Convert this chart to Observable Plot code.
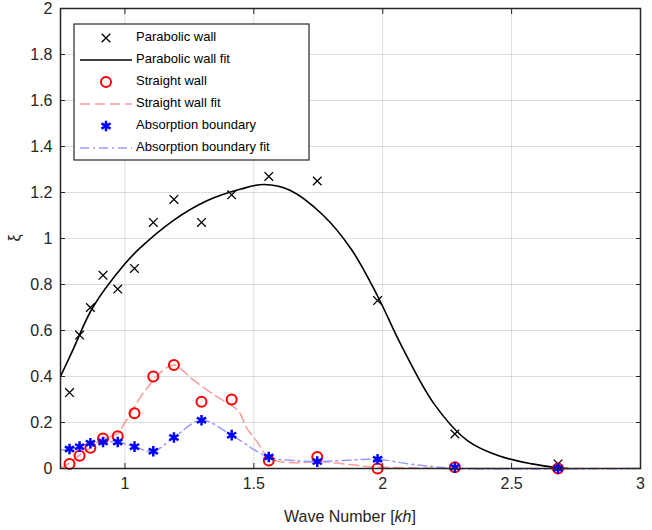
<!DOCTYPE html>
<html><head><meta charset="utf-8">
<script src="https://cdn.jsdelivr.net/npm/d3@7"></script>
<script src="https://cdn.jsdelivr.net/npm/@observablehq/plot@0.6"></script>
<style>body{margin:0;background:#fff}#chart{width:652px;height:530px}</style>
</head><body><div id="chart"></div>
<script>
// ---- data ----
const waveNumber = [0.785,0.824,0.866,0.915,0.972,1.037,1.11,1.19,1.297,1.414,1.558,1.746,1.98,2.28,2.68];
const parabolicY = [0.33,0.58,0.70,0.84,0.78,0.87,1.07,1.17,1.07,1.19,1.27,1.25,0.73,0.15,0.02];
const straightY  = [0.02,0.055,0.09,0.13,0.14,0.24,0.40,0.45,0.29,0.30,0.035,0.05,0.0,0.005,0.0];
const absorbY    = [0.085,0.095,0.11,0.115,0.115,0.095,0.075,0.135,0.21,0.145,0.05,0.03,0.04,0.005,0.0];

const parabolicFitX = [0.75,0.80,0.875,1.0,1.06,1.19,1.32,1.45,1.54,1.64,1.77,1.88,1.98,2.07,2.2,2.33,2.45,2.58,2.68,2.72];
const parabolicFitY = [0.40,0.52,0.70,0.89,0.96,1.08,1.165,1.215,1.235,1.21,1.10,0.95,0.75,0.54,0.28,0.12,0.055,0.02,0.003,0.0];

const straightFitX = [0.75,0.78,0.82,0.866,0.913,0.97,1.0,1.06,1.1,1.14,1.19,1.22,1.26,1.32,1.36,1.44,1.47,1.51,1.56,1.65,1.75,1.85,1.95,2.1,2.3,3.0];
const straightFitY = [0.0,0.02,0.055,0.09,0.13,0.15,0.2,0.31,0.37,0.42,0.45,0.43,0.39,0.34,0.31,0.25,0.18,0.12,0.045,0.025,0.03,0.02,0.008,0.003,0.0,0.0];

const absorbFitX = [0.75,0.785,0.824,0.866,0.917,0.975,1.037,1.11,1.19,1.297,1.413,1.556,1.65,1.746,1.85,1.98,2.1,2.2,2.28,3.0];
const absorbFitY = [0.08,0.085,0.095,0.11,0.115,0.115,0.095,0.075,0.135,0.21,0.145,0.05,0.035,0.03,0.035,0.04,0.02,0.008,0.0,0.0];

const xTicks = [1,1.5,2,2.5,3];
const xTickLabels = ["1","1.5","2","2.5","3"];
const yTicks = [0,0.2,0.4,0.6,0.8,1,1.2,1.4,1.6,1.8,2];
const yTickLabels = ["0","0.2","0.4","0.6","0.8","1","1.2","1.4","1.6","1.8","2"];

const legendLabels = ["Parabolic wall","Parabolic wall fit","Straight wall","Straight wall fit","Absorption boundary","Absorption boundary fit"];

// ---- tables ----
const zip = (xs, ys) => xs.map((x, i) => ({x, y: ys[i]}));
const parabolic = zip(waveNumber, parabolicY);
const straight = zip(waveNumber, straightY);
const absorb = zip(waveNumber, absorbY);
const parabolicFit = zip(parabolicFitX, parabolicFitY);
const straightFit = zip(straightFitX, straightFitY);
const absorbFit = zip(absorbFitX, absorbFitY);

const C = {
  black: "#000000", red: "#ff0000", pink: "#ff9a9a", blue: "#0000ff", lblue: "#9a9aff", axis: "#262626"
};
const dashStraight = "10,5";
const dashAbsorb = "9,4,2,4";

const plot = Plot.plot({
  width: 652, height: 530,
  marginLeft: 60, marginRight: 12, marginTop: 8, marginBottom: 62,
  style: {fontFamily: "'Liberation Sans', Arial, sans-serif", fontSize: "16px", color: C.axis, background: "#fff"},
  x: {domain: [0.75, 3]},
  y: {domain: [0, 2]},
  marks: [
    Plot.gridX(xTicks, {stroke: "#000", strokeOpacity: 0.13, strokeWidth: 1}),
    Plot.gridY(yTicks, {stroke: "#000", strokeOpacity: 0.13, strokeWidth: 1}),
    Plot.line(straightFit, {x: "x", y: "y", stroke: C.pink, strokeWidth: 1.5, strokeDasharray: dashStraight, curve: "catmull-rom"}),
    Plot.line(absorbFit, {x: "x", y: "y", stroke: C.lblue, strokeWidth: 1.5, strokeDasharray: dashAbsorb, curve: "catmull-rom"}),
    Plot.line(parabolicFit, {x: "x", y: "y", stroke: C.black, strokeWidth: 1.6, curve: "catmull-rom"}),
    Plot.dot(parabolic, {x: "x", y: "y", symbol: "times", stroke: C.black, r: 4, strokeWidth: 1.3}),
    Plot.dot(straight, {x: "x", y: "y", symbol: "circle", stroke: C.red, r: 5, strokeWidth: 2}),
    Plot.dot(absorb, {x: "x", y: "y", symbol: "asterisk", stroke: C.blue, r: 5, strokeWidth: 2.5}),
    Plot.frame({stroke: C.axis, strokeWidth: 1.5}),
    Plot.axisX(xTicks, {anchor: "bottom", tickSize: -5, text: null, label: null, stroke: C.axis}),
    Plot.axisX(xTicks, {anchor: "top", tickSize: -5, text: null, label: null, stroke: C.axis}),
    Plot.axisY(yTicks, {anchor: "left", tickSize: -5, text: null, label: null, stroke: C.axis}),
    Plot.axisY(yTicks, {anchor: "right", tickSize: -5, text: null, label: null, stroke: C.axis}),
    Plot.axisX(xTicks, {anchor: "bottom", tickSize: 0, tickPadding: 9, label: null, fill: C.axis, tickFormat: d => xTickLabels[xTicks.indexOf(d)]}),
    Plot.axisY(yTicks, {anchor: "left", tickSize: 0, tickPadding: 8, label: null, fill: C.axis, tickFormat: d => yTickLabels[yTicks.indexOf(d)]})
  ]
});
document.getElementById("chart").append(plot);

// ---- axis titles ----
const svg = d3.select(plot);
const xt = svg.append("text").attr("x", 350).attr("y", 522).attr("text-anchor", "middle")
  .attr("font-size", 16).attr("fill", C.axis);
xt.append("tspan").text("Wave Number [");
xt.append("tspan").attr("font-style", "italic").text("kh");
xt.append("tspan").text("]");
svg.append("text").attr("transform", "translate(16,238) rotate(-90)").attr("text-anchor", "middle")
  .attr("dominant-baseline", "middle").attr("font-size", 16).attr("fill", C.axis).text("ξ");

// ---- legend ----
const lg = svg.append("g").attr("text-anchor", "start");
lg.append("rect").attr("x", 74).attr("y", 24).attr("width", 235).attr("height", 136)
  .attr("fill", "#fff").attr("stroke", C.axis).attr("stroke-width", 1.2);
const styles = [
  {sym: d3.symbolTimes, stroke: C.black, sw: 1.3, r: 4},
  {line: true, stroke: C.black, sw: 1.6, dash: null},
  {sym: d3.symbolCircle, stroke: C.red, sw: 2, r: 5},
  {line: true, stroke: C.pink, sw: 1.5, dash: dashStraight},
  {sym: d3.symbolAsterisk, stroke: C.blue, sw: 2.5, r: 5},
  {line: true, stroke: C.lblue, sw: 1.5, dash: dashAbsorb}
];
legendLabels.forEach((lab, i) => {
  const y = 38 + i * 22;
  const s = styles[i];
  if (s.line) {
    lg.append("line").attr("x1", 80).attr("x2", 132).attr("y1", y).attr("y2", y)
      .attr("stroke", s.stroke).attr("stroke-width", s.sw).attr("stroke-dasharray", s.dash);
  } else {
    lg.append("path").attr("transform", `translate(106,${y})`)
      .attr("d", d3.symbol(s.sym, s.r * s.r * Math.PI)())
      .attr("fill", "none").attr("stroke", s.stroke).attr("stroke-width", s.sw);
  }
  lg.append("text").attr("x", 136).attr("y", y).attr("text-anchor", "start").attr("dominant-baseline", "middle")
    .attr("font-size", 13).attr("fill", "#000").text(lab);
});
</script>
</body></html>
